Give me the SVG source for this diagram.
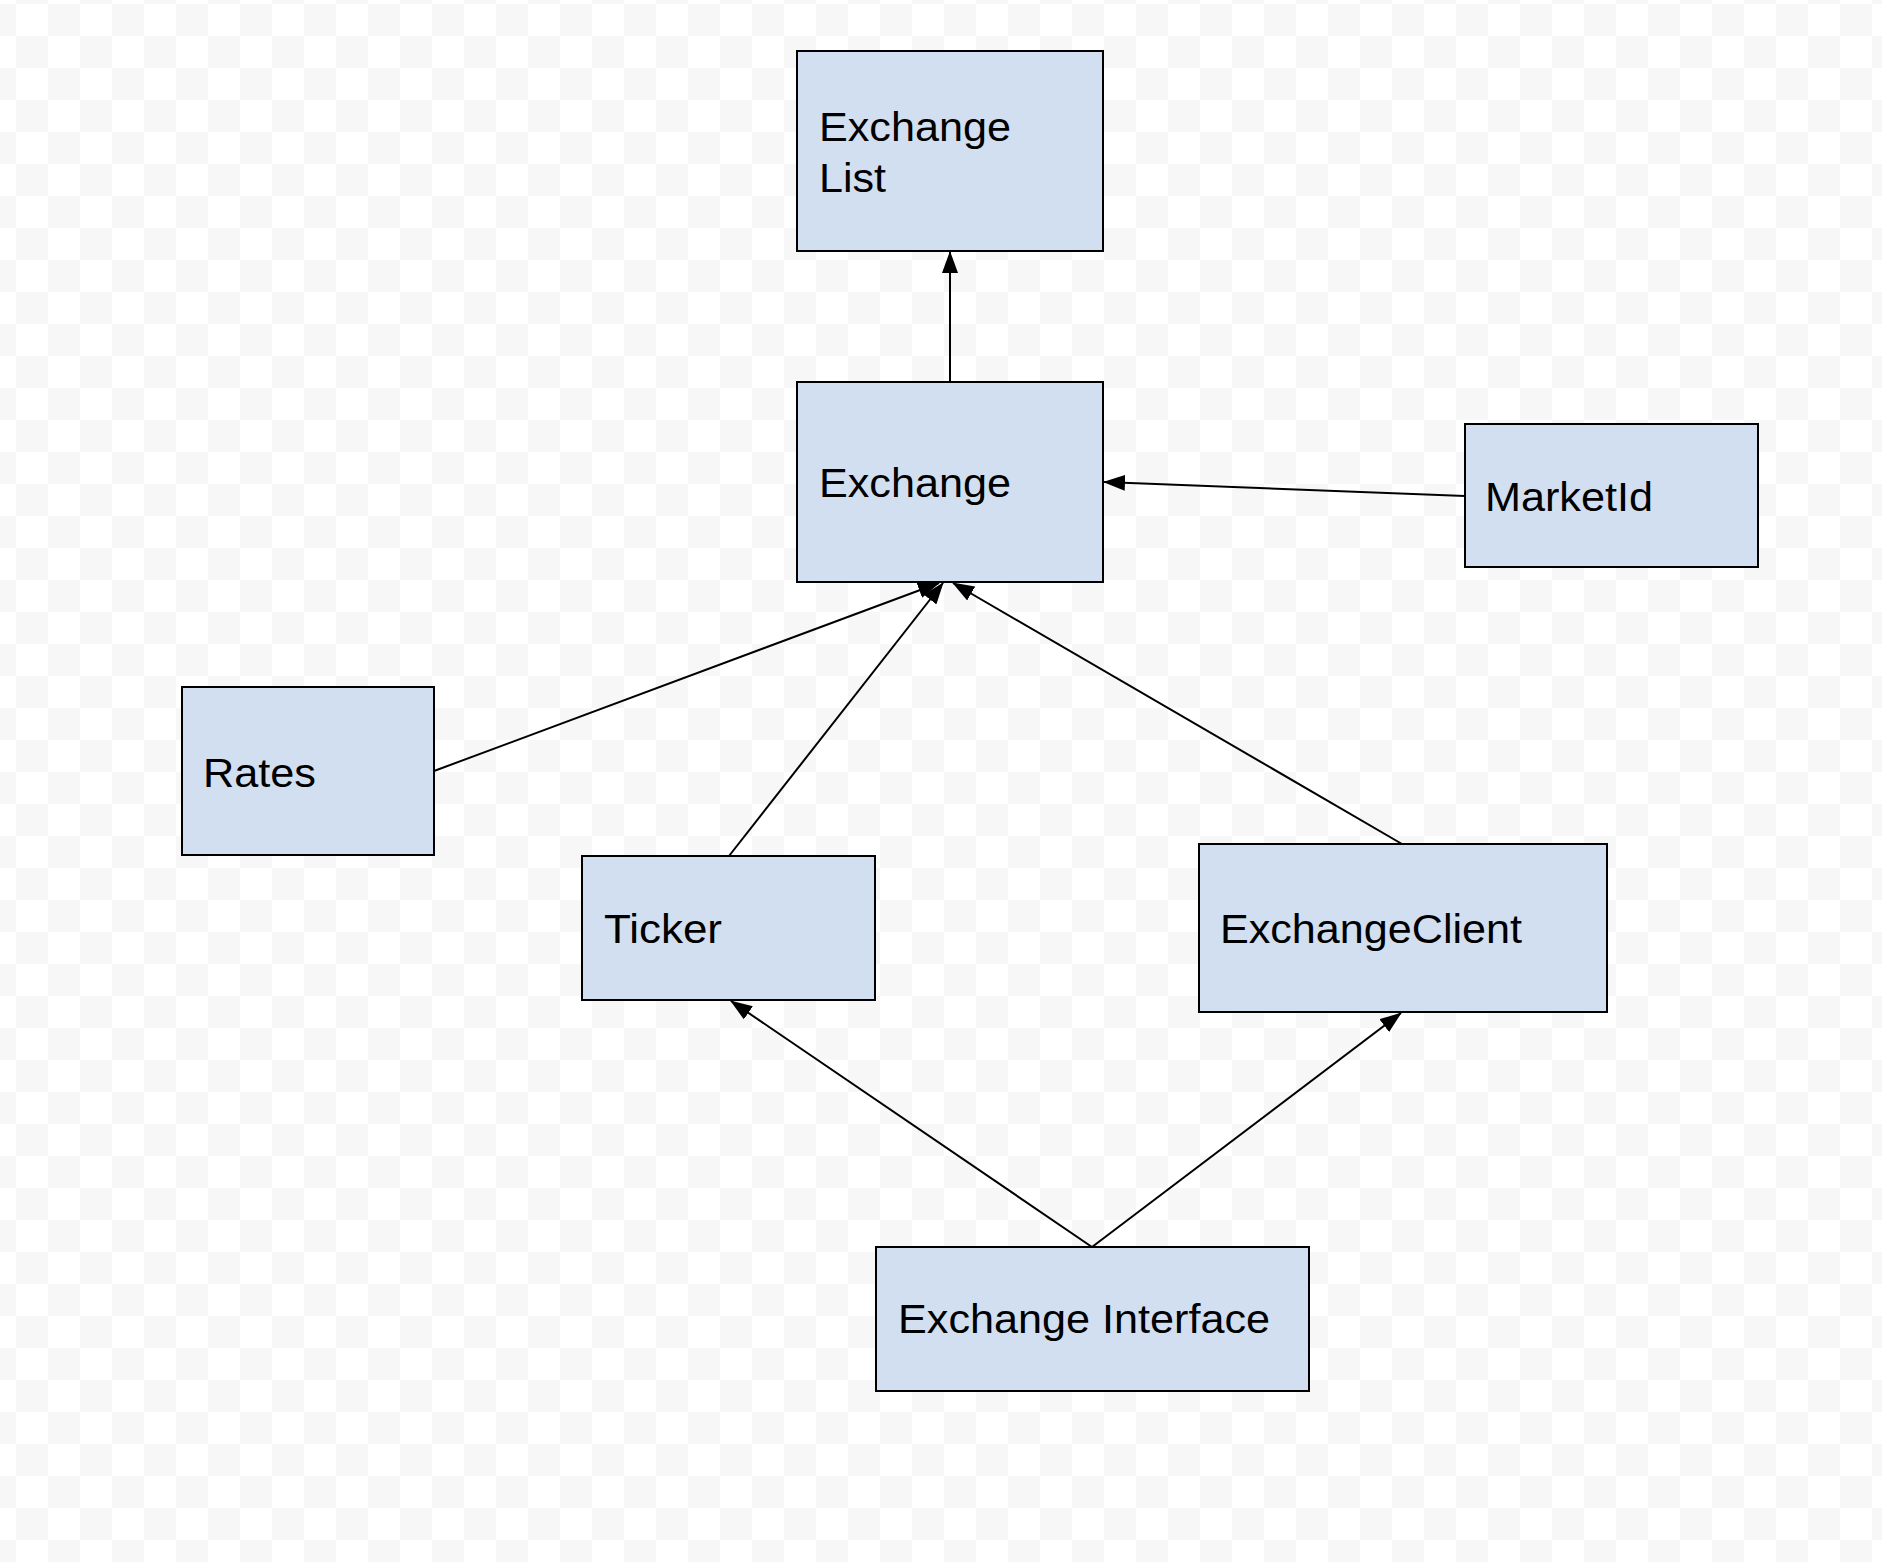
<svg xmlns="http://www.w3.org/2000/svg" width="1882" height="1562" viewBox="0 0 1882 1562">
  <defs>
    <pattern id="checker" patternUnits="userSpaceOnUse" x="-16" y="4" width="64" height="64">
      <rect x="0" y="0" width="64" height="64" fill="#ffffff"/>
      <rect x="0" y="0" width="32" height="32" fill="#f7f7f7"/>
      <rect x="32" y="32" width="32" height="32" fill="#f7f7f7"/>
    </pattern>
    <marker id="arrow" markerUnits="userSpaceOnUse" viewBox="0 0 22 16" refX="21" refY="8" markerWidth="22" markerHeight="16" orient="auto">
      <path d="M0,0 L22,8 L0,16 Z" fill="#000000"/>
    </marker>
  </defs>
  <style>
    .box { fill: #d2dff0; stroke: #000000; stroke-width: 2; }
    .lbl { font-family: "Liberation Sans", Arial, sans-serif; font-size: 40px; fill: #000000; }
    .conn { stroke: #000000; stroke-width: 2; fill: none; marker-end: url(#arrow); }
  </style>
  <rect x="0" y="0" width="1882" height="1562" fill="url(#checker)"/>

  <g id="connectors">
    <line class="conn" x1="950" y1="382" x2="950" y2="252"/>
    <line class="conn" x1="1465" y1="496" x2="1104" y2="482"/>
    <line class="conn" x1="434" y1="771" x2="939" y2="583"/>
    <line class="conn" x1="729" y1="856" x2="943" y2="583"/>
    <line class="conn" x1="1402" y1="844" x2="953" y2="583"/>
    <line class="conn" x1="1092" y1="1247" x2="731" y2="1001"/>
    <line class="conn" x1="1092" y1="1247" x2="1401" y2="1013"/>
  </g>

  <g id="node-exchange-list">
    <rect class="box" x="797" y="51" width="306" height="200"/>
    <text class="lbl" x="819" y="141" textLength="192" lengthAdjust="spacingAndGlyphs">Exchange</text>
    <text class="lbl" x="819" y="192" textLength="67" lengthAdjust="spacingAndGlyphs">List</text>
  </g>
  <g id="node-exchange">
    <rect class="box" x="797" y="382" width="306" height="200"/>
    <text class="lbl" x="819" y="497" textLength="192" lengthAdjust="spacingAndGlyphs">Exchange</text>
  </g>
  <g id="node-marketid">
    <rect class="box" x="1465" y="424" width="293" height="143"/>
    <text class="lbl" x="1485" y="511" textLength="168" lengthAdjust="spacingAndGlyphs">MarketId</text>
  </g>
  <g id="node-rates">
    <rect class="box" x="182" y="687" width="252" height="168"/>
    <text class="lbl" x="203" y="787" textLength="113" lengthAdjust="spacingAndGlyphs">Rates</text>
  </g>
  <g id="node-ticker">
    <rect class="box" x="582" y="856" width="293" height="144"/>
    <text class="lbl" x="604" y="943" textLength="118" lengthAdjust="spacingAndGlyphs">Ticker</text>
  </g>
  <g id="node-exchangeclient">
    <rect class="box" x="1199" y="844" width="408" height="168"/>
    <text class="lbl" x="1220" y="943" textLength="302" lengthAdjust="spacingAndGlyphs">ExchangeClient</text>
  </g>
  <g id="node-exchange-interface">
    <rect class="box" x="876" y="1247" width="433" height="144"/>
    <text class="lbl" x="898" y="1333" textLength="372" lengthAdjust="spacingAndGlyphs">Exchange Interface</text>
  </g>
</svg>
